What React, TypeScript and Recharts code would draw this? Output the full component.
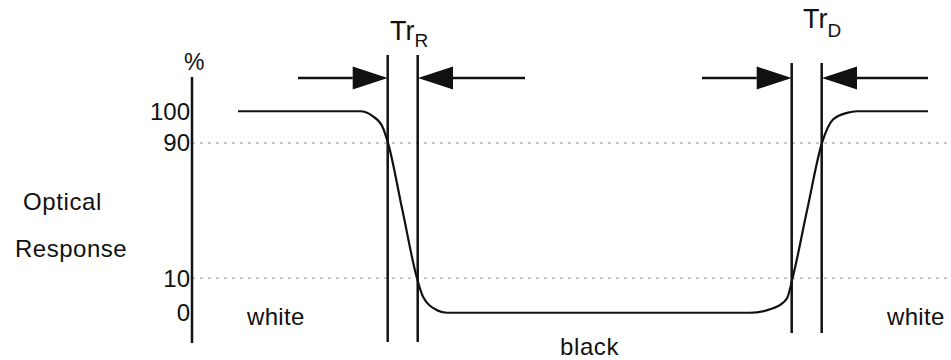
import React from 'react';
import { LineChart, Line, XAxis, YAxis, ReferenceLine } from 'recharts';

// response curve (time units, plotted level units)
const curveTime = [4.6, 16.8, 18.1, 19.1, 19.6, 21.05, 22.5, 23.1, 24.5, 25.5, 55.8, 58.1, 59.5, 60.05, 61.5, 63.0, 64.1, 65.5, 66.5, 73.6];
const curveLevel = [100, 100, 97.5, 91.7, 84.3, 50.7, 17.1, 8.0, 1.3, 0, 0, 2.2, 7.2, 17.1, 50.7, 84.3, 95.9, 99.2, 100, 100];

// axis ticks: where each label sits on the plotted scale
const levelTicks = [0, 17.1, 84.3, 100];
const levelLabels = ['0', '10', '90', '100'];

// dotted guide levels (90 % and 10 %)
const guideLevels = [84.3, 17.1];

// timing markers: x position, bottom, top
const riseMarks = [19.57, 22.57];
const riseSpan = [-14.5, 127.9];
const decayMarks = [59.97, 62.97];
const decaySpan = [-10, 124];

// arrows pointing at the markers: shaft start, tip
const arrowLevel = 116.5;
const arrowFrom = [10.6, 33.3, 51.0, 73.6];
const arrowTo = [19.57, 22.6, 59.97, 63.0];

const data = curveTime.map((t, i) => ({ t, level: curveLevel[i] }));

const FONT = '"Liberation Sans", Arial, sans-serif';
const INK = '#111';

const ArrowShape = (props: any) => {
  const { x1, y1, x2, y2 } = props;
  const dir = x2 > x1 ? 1 : -1;
  const head = 35;
  const half = 11.5;
  return (
    <g>
      <line x1={x1} y1={y1} x2={x2 - dir * head} y2={y2} stroke={INK} strokeWidth={2.5} />
      <polygon points={`${x2},${y2} ${x2 - dir * head},${y2 - half} ${x2 - dir * head},${y2 + half}`} fill={INK} />
    </g>
  );
};

export default function App() {
  return (
    <div style={{ position: 'absolute', left: 0, top: 0, width: 951, height: 360, background: '#fff' }}>
      <LineChart width={951} height={360} data={data} margin={{ top: 77, right: 0, bottom: 17, left: 0 }}>
        <XAxis dataKey="t" type="number" domain={[0, 75.9]} hide />
        <YAxis
          type="number"
          domain={[-15, 117]}
          ticks={levelTicks}
          tickFormatter={(v: number) => levelLabels[levelTicks.indexOf(v)]}
          width={192}
          tickLine={false}
          tickSize={0}
          tickMargin={2}
          axisLine={{ stroke: INK, strokeWidth: 2.5 }}
          tick={{ fontSize: 24, fill: INK, fontFamily: FONT }}
          interval={0}
        />
        {guideLevels.map((y) => (
          <ReferenceLine key={`g${y}`} y={y} stroke="#b5b5b5" strokeWidth={1.5} strokeDasharray="3 5" />
        ))}
        {riseMarks.map((x) => (
          <ReferenceLine key={`r${x}`} ifOverflow="visible" segment={[{ x, y: riseSpan[0] }, { x, y: riseSpan[1] }]} stroke={INK} strokeWidth={2.5} />
        ))}
        {decayMarks.map((x) => (
          <ReferenceLine key={`d${x}`} ifOverflow="visible" segment={[{ x, y: decaySpan[0] }, { x, y: decaySpan[1] }]} stroke={INK} strokeWidth={2.5} />
        ))}
        {arrowFrom.map((x, i) => (
          <ReferenceLine
            key={`a${i}`}
            ifOverflow="visible"
            segment={[{ x, y: arrowLevel }, { x: arrowTo[i], y: arrowLevel }]}
            shape={ArrowShape}
          />
        ))}
        <Line type="monotone" dataKey="level" stroke={INK} strokeWidth={2.2} dot={false} isAnimationActive={false} />
      </LineChart>
      <svg width={951} height={360} style={{ position: 'absolute', left: 0, top: 0, pointerEvents: 'none' }} fontFamily={FONT} fill={INK}>
        <text x={184} y={70} fontSize={23}>%</text>
        <text x={390} y={40} fontSize={27}>Tr<tspan fontSize={19} dy={7}>R</tspan></text>
        <text x={803} y={28} fontSize={27}>Tr<tspan fontSize={19} dy={9}>D</tspan></text>
        <text x={23} y={210} fontSize={24} letterSpacing={0.6}>Optical</text>
        <text x={15} y={257} fontSize={24} letterSpacing={0.5}>Response</text>
        <text x={247} y={325} fontSize={24} letterSpacing={0.3}>white</text>
        <text x={887} y={325} fontSize={24} letterSpacing={0.3}>white</text>
        <text x={560} y={355} fontSize={24} letterSpacing={0.6}>black</text>
      </svg>
    </div>
  );
}
